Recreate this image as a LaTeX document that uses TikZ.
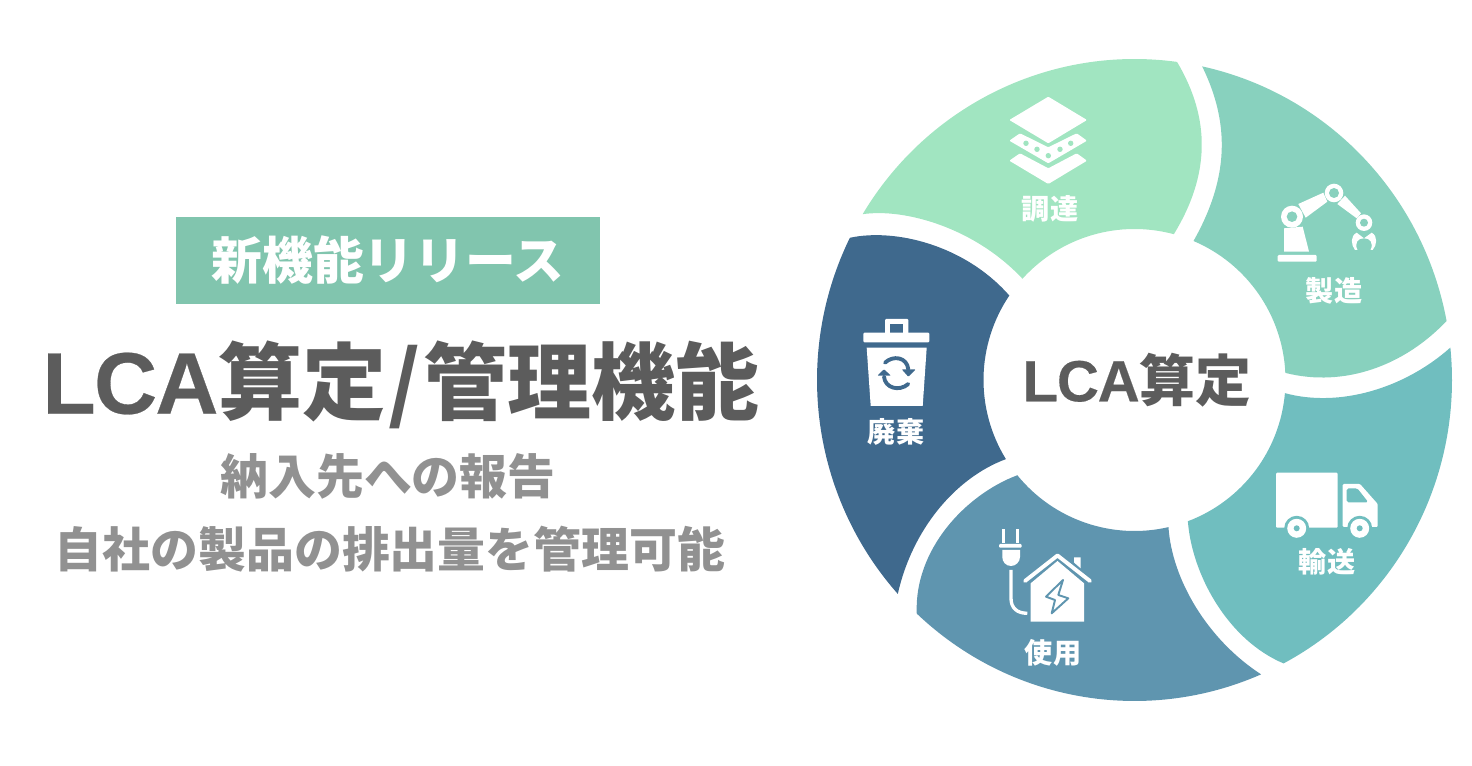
\documentclass[tikz,border=0pt]{standalone}
\usepackage{fontspec}
\setmainfont{Noto Sans CJK JP}
\newfontfamily\latinfont[Scale=1.04, LetterSpace=-2, BoldFeatures={FakeBold=0.3}]{Liberation Sans}
\usetikzlibrary{calc}
\definecolor{procure}{HTML}{A1E5C1}
\definecolor{make}{HTML}{88D1BE}
\definecolor{ship}{HTML}{70BEBF}
\definecolor{usage}{HTML}{5F95AF}
\definecolor{waste}{HTML}{3F698D}
\definecolor{tagbg}{HTML}{81C5AE}
\definecolor{darktxt}{HTML}{5C5C5C}
\definecolor{greytxt}{HTML}{919191}

\begin{document}
\begin{tikzpicture}[
    x=0.02cm, y=-0.02cm,
    tagbox/.style={rectangle, fill=tagbg, text=white, inner sep=0pt, minimum width=8.48cm, minimum height=1.74cm, font=\fontsize{28.9}{34}\selectfont\bfseries},
    headline/.style={inner sep=0pt, text=darktxt, font=\fontsize{47.8}{57}\selectfont\bfseries},
    subline/.style={inner sep=0pt, text=greytxt, font=\fontsize{27.25}{32}\selectfont\bfseries},
    hub/.style={inner sep=0pt, text=darktxt, font=\fontsize{31.8}{38}\selectfont\bfseries},
    seglabel/.style={inner sep=0pt, text=white, font=\fontsize{16}{19}\selectfont\bfseries},
    icon/.style={fill=white, rounded corners=0.6pt},
    ringarc/.style={x radius=317.5, y radius=321}
]
\useasboundingbox (0,0) rectangle (1472,766);
\coordinate (c) at (1134.5,380);

% 1. Ring Segments
\fill[procure] ($(c)+(-148.9:317.5 and 321)$) arc[start angle=-148.9, end angle=-82.3, ringarc]
    .. controls (1211,119) and (1210,175) .. ($(c)+(-74.9:151)$)
    arc[start angle=-74.9, end angle=-137.9, radius=151]
    .. controls (975,228) and (905,208) .. cycle;
\fill[make] ($(c)+(-77.7:317.5 and 321)$) arc[start angle=-77.7, end angle=-10.6, ringarc]
    .. controls (1405,365) and (1345,388) .. ($(c)+(-2.7:151)$)
    arc[start angle=-2.7, end angle=-67, radius=151]
    .. controls (1228,180) and (1231,125) .. cycle;
\fill[ship] ($(c)+(-5.8:317.5 and 321)$) arc[start angle=-5.8, end angle=62, ringarc]
    .. controls (1228,640) and (1192,575) .. ($(c)+(69.3:151)$)
    arc[start angle=69.3, end angle=5, radius=151]
    .. controls (1340,408) and (1405,388) .. cycle;
\fill[usage] ($(c)+(66.5:317.5 and 321)$) arc[start angle=66.5, end angle=133.3, ringarc]
    .. controls (914,550) and (965,495) .. ($(c)+(140.9:151)$)
    arc[start angle=140.9, end angle=77, radius=151]
    .. controls (1172,580) and (1208,640) .. cycle;
\fill[waste] ($(c)+(138.2:317.5 and 321)$) arc[start angle=138.2, end angle=206.3, ringarc]
    .. controls (895,228) and (965,245) .. ($(c)+(214:151)$)
    arc[start angle=214, end angle=148.4, radius=151]
    .. controls (955,478) and (912,530) .. cycle;

% 2. Left Text
\node[tagbox] (tag) at (388,260.5) {新機能リリース};
\node[headline] (title) at (401,385) {{\latinfont LCA}算定\hspace{0.03em}/\hspace{0.03em}管理機能};
\node[subline] (sub1) at (388,476) {納入先への報告};
\node[subline] (sub2) at (390,549) {自社の製品の排出量を管理可能};

% 3. Center and Segment Labels
\node[hub] (center) at (1137,380) {{\latinfont LCA}算定};
\node[seglabel] (lbl1) at (1050,209) {調達};
\node[seglabel] (lbl2) at (1334,291) {製造};
\node[seglabel] (lbl3) at (1327,562) {輸送};
\node[seglabel] (lbl4) at (1053,653) {使用};
\node[seglabel] (lbl5) at (896,432) {廃棄};

% -- Layers Icon --
\fill[icon] (1048.3,96.7) -- (1087,120) -- (1048.3,143.3) -- (1009.3,120) -- cycle;
\fill[icon] (1009.3,140.7) -- (1020,133.3) -- (1048.3,147.3) -- (1076.7,133.3) -- (1087,140.7) -- (1048.3,163.3) -- cycle;
\fill[icon] (1009.3,160.7) -- (1020,153.3) -- (1048.3,168.3) -- (1076.7,153.3) -- (1087,160.7) -- (1048.3,184) -- cycle;
\foreach \px/\py in {1026/143.3, 1037/149.3, 1048.3/155.7, 1060/149.3, 1070.7/143.3}
    \fill[procure] (\px,\py) circle[radius=2.7];

% -- Robot Arm Icon --
\fill[white] (1292,216.7) circle[radius=11];
\fill[make] (1292,216.7) circle[radius=5.3];
\fill[white] (1334,193) circle[radius=9.3];
\fill[make] (1334,193) circle[radius=5];
\fill[white] (1364,222.7) circle[radius=8.3];
\fill[make] (1364,222.7) circle[radius=4];
\fill[white] (1298.3,204) -- (1323.3,192.7) -- (1327.3,201.7) -- (1305.7,217.7) -- cycle;
\fill[white] (1337.3,204) -- (1345,195.7) -- (1361,213.3) -- (1356.7,218.3) -- cycle;
\fill[white] (1284,228.3) -- (1302.7,226.7) -- (1309,251.7) -- (1284,251.7) -- cycle;
\fill[icon] (1277.7,255) rectangle (1316.7,261.7);
\fill[white] (1355,250) .. controls (1351,245) and (1350,236) .. (1356.7,232.7) -- (1364,238.3)
    .. controls (1358,238) and (1354,243) .. (1357.5,250) -- cycle;
\fill[white] (1372.7,250) .. controls (1377,245) and (1378,236) .. (1371.7,232.7) -- (1364,238.3)
    .. controls (1370,238) and (1374,243) .. (1370.5,250) -- cycle;

% -- Truck Icon --
\fill[icon] (1276,472.7) rectangle (1337.7,527.7);
\fill[icon] (1342.7,484) -- (1360,484) -- (1377.7,504) -- (1377.7,527) -- (1342.7,527) -- cycle;
\fill[ship, rounded corners=1pt] (1346.7,488.3) -- (1357.3,488.3) -- (1368.3,502.3) -- (1346.7,502.3) -- cycle;
\foreach \wx in {1296.7, 1359.7} {
    \fill[ship] (\wx,528.3) circle[radius=12.5];
    \fill[white] (\wx,528.3) circle[radius=9.5];
    \fill[ship] (\wx,528.3) circle[radius=3];
}

% -- Plug and House Icon --
\fill[white] (1001.7,529.3) rectangle (1005,543.3);
\fill[white] (1015.7,529.3) rectangle (1019,543.3);
\fill[icon] (999,544) rectangle (1021.7,547.7);
\fill[white] (1002.3,550) -- (1020,550) -- (1020,557) .. controls (1020,562) and (1015.5,566) .. (1011,566)
    .. controls (1006,566) and (1002.3,562) .. (1002.3,557) -- cycle;
\draw[white, line width=1.9pt] (1011,570) -- (1011,598.3) .. controls (1011,608) and (1017,613.3) .. (1027.3,613.3);
\fill[white] (1030.7,621.7) -- (1084,621.7) -- (1084,583.3) -- (1057.5,561) -- (1030.7,583.3) -- cycle;
\draw[white, line width=2.2pt, line cap=round, line join=round] (1025,581) -- (1057.5,555.5) -- (1090,581);
\fill[white] (1074,557.3) -- (1080.7,557.3) -- (1080.7,568.3) -- (1074,562.5) -- cycle;
\draw[usage, line width=1.1pt, line join=round] (1063,580) -- (1046,596.7) -- (1055,600) -- (1051.7,613.3)
    -- (1068.3,598.3) -- (1058.3,595) -- cycle;

% -- Trash Can Icon --
\fill[icon] (885,319) rectangle (908.3,334);
\fill[waste] (890,324.3) rectangle (902.7,332.7);
\fill[icon] (863.3,332.7) rectangle (929.3,342.3);
\fill[white] (866.7,347.7) -- (926.7,347.7) -- (922.7,406) -- (870.7,406) -- cycle;
\draw[waste, line width=2.2pt, line cap=round] (885,362.7) .. controls (893,355) and (907,357) .. (908.3,369.3);
\draw[waste, line width=2.2pt, line cap=round] (884,376.7) .. controls (885,388) and (899,392) .. (908.3,384);
\fill[waste, rounded corners=0.5pt] (901.7,369.3) -- (915.7,369.3) -- (908.3,376.7) -- cycle;
\fill[waste, rounded corners=0.5pt] (877.3,375.7) -- (891,375.7) -- (884,369.3) -- cycle;

\end{tikzpicture}
\end{document}
